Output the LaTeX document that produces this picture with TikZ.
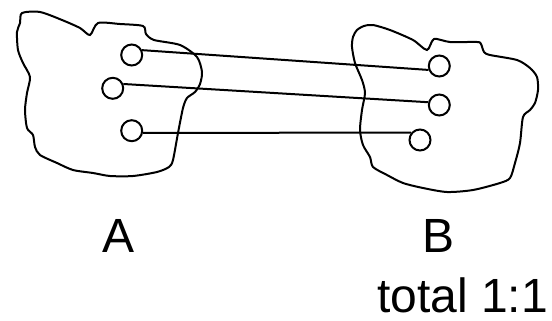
\documentclass[tikz,border=0pt]{standalone}
\usepackage{fontspec}
\setmainfont{Liberation Sans}

\begin{document}
\begin{tikzpicture}[
		x=0.5pt, y=-0.5pt,
		line width=1pt,
		portnode/.style={
		% The shape:
		circle,
		% The size:
		minimum size=10.5pt,
		inner sep=0pt,
		% The border:
		draw=black,
		fill=white
		},
		setlabel/.style={
		% Font
		font=\fontsize{24}{28}\selectfont,
		inner sep=0pt
		}
	]
	\useasboundingbox (0,0) rectangle (552,321);

	% the two sets, drawn freehand
	\draw [smooth cycle, tension=0.45] plot coordinates {
		(22,13) (40,12) (62,20) (80,28) (90,35) (98,23) (120,24) (143,26)
		(146,34) (154,40) (180,45) (197,57) (202,72) (200,84) (195,92)
		(187,98) (183,108) (178,133) (173,160) (169,167) (157,172) (133,176)
		(110,176) (93,173) (73,170) (57,163) (40,155) (35,147) (33,135)
		(27,128) (25,110) (27,93) (30,77) (23,63) (18,50) (17,32) (20,23)};
	\draw [smooth cycle, tension=0.45] plot coordinates {
		(357,30) (364,26) (373,25) (390,30) (413,40) (427,50) (434,39)
		(450,42) (477,42) (481,44) (484,52) (490,55) (517,60) (530,68)
		(537,77) (538,90) (535,103) (530,110) (523,117) (520,143) (515,163)
		(510,178) (500,183) (473,190) (447,192) (423,188) (403,183) (387,175)
		(373,167) (370,157) (363,145) (360,130) (362,110) (365,93) (362,80)
		(355,63) (352,47) (353,37)};

	\node (a1)[portnode] at (131.7,55) {};
	\node (a2)[portnode] at (112.7,88.3) {};
	\node (a3)[portnode] at (131.7,130.7) {};
	\node (b1)[portnode] at (439.3,66) {};
	\node (b2)[portnode] at (439.3,105) {};
	\node (b3)[portnode] at (420,140) {};

	\node (labA)[setlabel, anchor=base] at (119,252) {A};
	\node (labB)[setlabel, anchor=base] at (439,252) {B};
	\node (total)[setlabel, anchor=base east] at (549,312) {total 1:1};

	\draw (a1.25) -- (b1.200);
	\draw (a2.22) -- (b2.166);
	\draw (a3.-11) -- (b3.140);
\end{tikzpicture}
\end{document}
